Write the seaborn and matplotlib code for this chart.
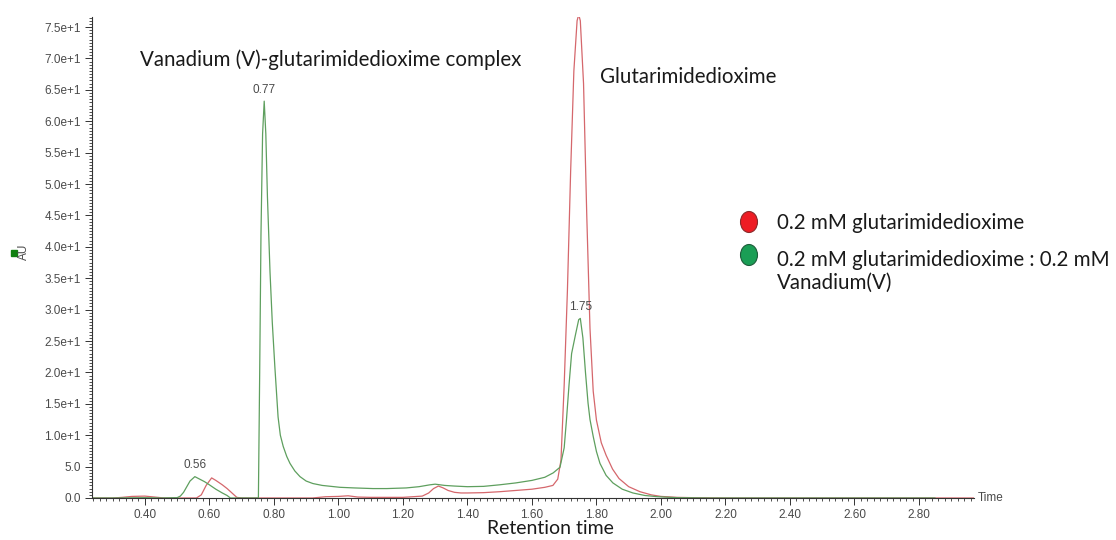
import numpy as np
import pandas as pd
import matplotlib
matplotlib.use("Agg")
import matplotlib.pyplot as plt
from matplotlib.patches import Ellipse
from matplotlib.ticker import FixedLocator, MultipleLocator, FixedFormatter
import seaborn as sns

## data
red_time = [0.236, 0.30, 0.33, 0.36, 0.40, 0.43, 0.46, 0.50, 0.56, 0.575, 0.59, 0.607,
            0.62, 0.64, 0.655, 0.67, 0.685, 0.70, 0.80, 0.92, 0.96, 1.00, 1.03, 1.06,
            1.10, 1.20, 1.26, 1.28, 1.295, 1.31, 1.325, 1.34, 1.36, 1.38, 1.40, 1.45,
            1.50, 1.55, 1.60, 1.64, 1.665, 1.68, 1.69, 1.70, 1.71, 1.72, 1.73, 1.74,
            1.745, 1.75, 1.76, 1.77, 1.78, 1.79, 1.80, 1.815, 1.83, 1.85, 1.87, 1.90,
            1.935, 1.97, 2.00, 2.05, 2.10, 2.20, 2.50, 2.80, 2.971]
red_au = [0.0, 0.0, 0.1, 0.25, 0.3, 0.15, 0.0, 0.0, 0.0, 0.5, 2.0, 3.2,
          2.8, 2.1, 1.5, 0.8, 0.1, 0.0, 0.0, 0.0, 0.2, 0.25, 0.35, 0.15,
          0.1, 0.1, 0.3, 0.8, 1.5, 1.9, 1.6, 1.2, 0.9, 0.8, 0.8, 0.85,
          1.0, 1.2, 1.4, 1.7, 2.0, 3.0, 6.0, 18.0, 33.0, 52.0, 68.0, 76.0,
          77.0, 76.0, 66.0, 45.0, 27.0, 17.0, 12.4, 8.8, 6.8, 4.6, 3.1, 1.8,
          1.0, 0.5, 0.25, 0.1, 0.05, 0.0, 0.0, 0.0, 0.0]

green_time = [0.236, 0.30, 0.40, 0.45, 0.50, 0.51, 0.52, 0.53, 0.54, 0.555, 0.57, 0.585,
              0.60, 0.62, 0.64, 0.655, 0.665, 0.70, 0.745, 0.752, 0.756, 0.76, 0.765,
              0.77, 0.775, 0.78, 0.788, 0.795, 0.803, 0.813, 0.82, 0.829, 0.84, 0.85,
              0.865, 0.881, 0.90, 0.921, 0.95, 1.005, 1.05, 1.107, 1.15, 1.21, 1.25,
              1.284, 1.30, 1.33, 1.36, 1.40, 1.45, 1.50, 1.55, 1.60, 1.64, 1.666, 1.687,
              1.70, 1.707, 1.715, 1.723, 1.735, 1.745, 1.75, 1.758, 1.766, 1.774, 1.78,
              1.79, 1.80, 1.811, 1.83, 1.851, 1.88, 1.913, 1.95, 1.99, 2.05, 2.15, 2.50,
              2.85]
green_au = [0.0, 0.0, 0.05, 0.0, 0.05, 0.3, 0.9, 1.8, 2.7, 3.4, 3.0, 2.6,
            2.1, 1.4, 0.8, 0.4, 0.0, 0.0, 0.0, 0.0, 20.0, 42.0, 58.0,
            63.2, 58.0, 48.0, 36.0, 28.0, 20.9, 12.9, 10.0, 8.2, 6.6, 5.5,
            4.3, 3.4, 2.7, 2.3, 2.0, 1.7, 1.6, 1.5, 1.5, 1.6, 1.8,
            2.1, 2.2, 2.0, 1.9, 1.8, 1.85, 2.1, 2.4, 2.8, 3.3, 4.0, 4.9,
            8.0, 12.4, 18.0, 23.0, 26.0, 28.4, 28.6, 25.5, 20.0, 15.1, 12.5,
            9.8, 7.4, 5.5, 3.6, 2.4, 1.4, 0.8, 0.4, 0.2, 0.05, 0.0, 0.0,
            0.0]

series_names = ["0.2 mM glutarimidedioxime",
                "0.2 mM glutarimidedioxime : 0.2 mM\nVanadium(V)"]
peak_labels = ["0.56", "0.77", "1.75"]
x_ticks = [0.40, 0.60, 0.80, 1.00, 1.20, 1.40, 1.60, 1.80, 2.00, 2.20, 2.40, 2.60, 2.80]
x_tick_labels = ["0.40", "0.60", "0.80", "1.00", "1.20", "1.40", "1.60", "1.80",
                 "2.00", "2.20", "2.40", "2.60", "2.80"]
y_ticks = [0, 5, 10, 15, 20, 25, 30, 35, 40, 45, 50, 55, 60, 65, 70, 75]
y_tick_labels = ["0.0", "5.0", "1.0e+1", "1.5e+1", "2.0e+1", "2.5e+1", "3.0e+1",
                 "3.5e+1", "4.0e+1", "4.5e+1", "5.0e+1", "5.5e+1", "6.0e+1",
                 "6.5e+1", "7.0e+1", "7.5e+1"]

df = pd.concat([
    pd.DataFrame({"time": red_time, "au": red_au, "sample": "red"}),
    pd.DataFrame({"time": green_time, "au": green_au, "sample": "green"}),
], ignore_index=True)

sns.set_style("white")
plt.rcParams["font.family"] = ["Liberation Sans", "DejaVu Sans"]
line_colors = {"red": "#d5676c", "green": "#5e9f5e"}
text_font = ["Lato", "DejaVu Sans"]
tick_color = "#4a4a4a"
big = 14.8

fig = plt.figure(figsize=(11.16, 5.40), dpi=100)
ax = fig.add_axes([0.0824, 0.0778, 0.7905, 0.8907])

sns.lineplot(data=df, x="time", y="au", hue="sample", palette=line_colors,
             estimator=None, sort=False, linewidth=0.9, legend=False, ax=ax)

ax.set_xlim(0.236, 2.971)
ax.set_ylim(0, 76.6)
sns.despine(ax=ax)
for s in ["left", "bottom"]:
    ax.spines[s].set_linewidth(0.8)
    ax.spines[s].set_color("#333333")

ax.xaxis.set_major_locator(FixedLocator(x_ticks))
ax.xaxis.set_major_formatter(FixedFormatter(x_tick_labels))
ax.xaxis.set_minor_locator(MultipleLocator(0.02))
ax.yaxis.set_major_locator(FixedLocator(y_ticks))
ax.yaxis.set_major_formatter(FixedFormatter(y_tick_labels))
ax.yaxis.set_minor_locator(MultipleLocator(0.5))
ax.tick_params(which="major", direction="out", length=5, width=0.7, color="#333333",
               labelsize=8.5, labelcolor=tick_color, pad=3)
ax.tick_params(which="minor", direction="out", length=2.5, width=0.6, color="#333333")
ax.tick_params(axis="x", which="both", bottom=True)
ax.tick_params(axis="y", which="both", left=True)
ax.set_xlabel("")
ax.set_ylabel("")

## peak labels
tt = np.array(green_time)
gg = np.array(green_au)
for lab in peak_labels:
    t0 = float(lab)
    win = (tt > t0 - 0.02) & (tt < t0 + 0.02)
    i = np.argmax(np.where(win, gg, -1))
    ax.annotate(lab, (tt[i], gg[i]), xytext=(0, 4), textcoords="offset points",
                ha="center", va="bottom", fontsize=8.5, color=tick_color)

## axis captions
fig.text(991 / 1116, 1 - 498 / 540, "Time", fontsize=8.5, color=tick_color,
         ha="center", va="center")
fig.text(550 / 1116, 1 - 529 / 540, "Retention time", fontsize=14, color="#1a1a1a",
         ha="center", va="center", family=text_font)
fig.text(24 / 1116, 1 - 252 / 540, "AU", fontsize=8.5, color=tick_color, rotation=90,
         ha="center", va="center")
fig.add_artist(plt.Rectangle((11 / 1116, 1 - 256 / 540), 6 / 1116, 6 / 540,
                             transform=fig.transFigure, color="#108010"))

## peak names
fig.text(140 / 1116, 1 - 60 / 540, "Vanadium (V)-glutarimidedioxime complex",
         fontsize=big, color="#1a1a1a", ha="left", va="center", family=text_font)
fig.text(600 / 1116, 1 - 77 / 540, "Glutarimidedioxime",
         fontsize=big, color="#1a1a1a", ha="left", va="center", family=text_font)

## legend with ellipse markers
legend_fill = ["#ee1c24", "#1a9e55"]
legend_edge = ["#8a2a2a", "#1d5c3a"]
legend_y = [222, 255]
text_y = [223, 260]
for name, fc, ec, ly, ty in zip(series_names, legend_fill, legend_edge, legend_y, text_y):
    fig.add_artist(Ellipse((749 / 1116, 1 - ly / 540), 17 / 1116, 21 / 540,
                           transform=fig.transFigure, facecolor=fc, edgecolor=ec,
                           linewidth=0.8))
    fig.text(777 / 1116, 1 - (ty - 10) / 540, name, fontsize=big, color="#1a1a1a",
             ha="left", va="top", family=text_font, linespacing=1.15)

fig.savefig("out.png", dpi=100)
